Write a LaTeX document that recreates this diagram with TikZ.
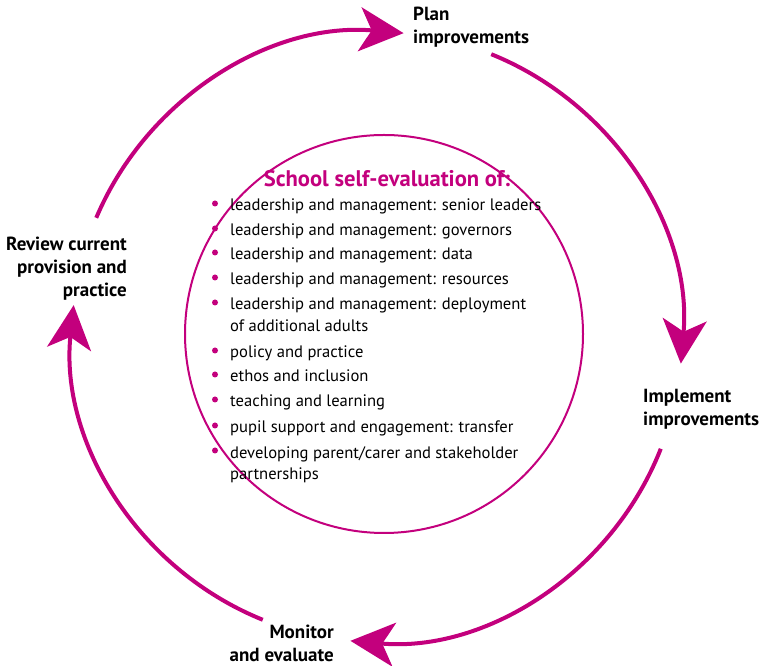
\documentclass[tikz,border=0pt]{standalone}
\usepackage{fontspec}
\setmainfont{PT Sans}
\usepackage{tikz}
\usetikzlibrary{arrows.meta,positioning}
\definecolor{cyclepink}{HTML}{C3007D}

\begin{document}
\begin{tikzpicture}[
  x=1pt,y=1pt,
  >={Stealth[length=44pt,width=44pt,inset=12pt]},
  cycle/.style={->,line width=4pt,cyclepink},
  stage/.style={font=\fontsize{19}{23}\selectfont\bfseries,align=left,inner sep=0pt},
  point/.style={font=\fontsize{16.6}{21.5}\selectfont,align=left,anchor=north west,inner sep=0pt},
  dot/.style={fill=cyclepink}
]
\useasboundingbox (0,0) rectangle (768,666);
\coordinate (c) at (377,329);

% outer cycle
\draw[cycle] ([shift={(157:305)}]c) arc[start angle=157,end angle=85,radius=305];
\draw[cycle] ([shift={(68:305)}]c) arc[start angle=68,end angle=-5,radius=305];
\draw[cycle] ([shift={(-21.5:305)}]c) arc[start angle=-21.5,end angle=-95,radius=305];
\draw[cycle] ([shift={(-112:305)}]c) arc[start angle=-112,end angle=-186,radius=305];

% inner circle
\node[draw=cyclepink,line width=2pt,circle,minimum size=398pt] (core) at (384,332) {};

% stages
\node[stage,anchor=north west] (plan) at (413,659) {Plan\\improvements};
\node[stage,anchor=north west] (impl) at (643,277) {Implement\\improvements};
\node[stage,anchor=north east,align=right] (mon) at (334,41) {Monitor\\and evaluate};
\node[stage,anchor=north east,align=right] (rev) at (127,429) {Review current\\provision and\\practice};

% contents
\node[font=\fontsize{22.6}{26}\selectfont\bfseries,text=cyclepink,inner sep=0pt] (title) at (387,487) {School self-evaluation of:};
\foreach \n/\y/\txt in {
  1/199/{leadership and management: senior leaders},
  2/224/{leadership and management: governors},
  3/248/{leadership and management: data},
  4/273/{leadership and management: resources},
  5/298/{leadership and management: deployment\\of additional adults},
  6/346/{policy and practice},
  7/370/{ethos and inclusion},
  8/395/{teaching and learning},
  9/421/{pupil support and engagement: transfer},
  10/446/{developing parent/carer and stakeholder\\partnerships}}
{
  \node[point] (item\n) at (230,666-\y) {\txt};
  \fill[dot] (215,661.5-\y) circle (3pt);
}
\end{tikzpicture}
\end{document}
